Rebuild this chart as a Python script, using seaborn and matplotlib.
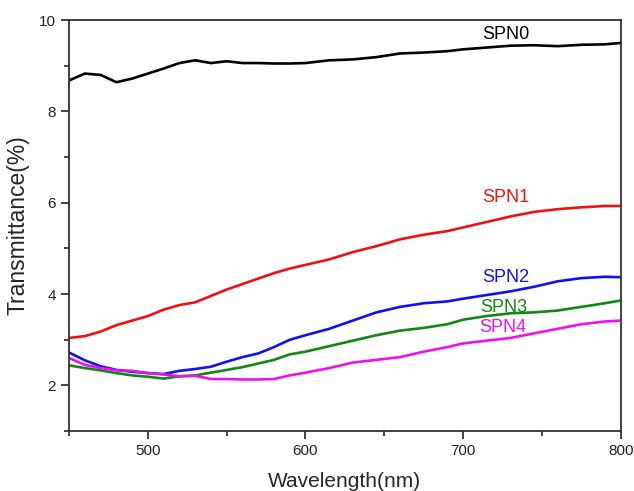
import matplotlib
matplotlib.use("Agg")
import matplotlib.pyplot as plt
import seaborn as sns
import pandas as pd
from matplotlib.ticker import MultipleLocator

wavelength = [450, 460, 470, 480, 490, 500, 510, 520, 530, 540, 550, 560, 570, 580, 590,
              600, 615, 630, 645, 660, 675, 690, 700, 715, 730, 745, 760, 775, 790, 800]

spn0 = [8.68, 8.83, 8.80, 8.64, 8.72, 8.83, 8.94, 9.06, 9.12, 9.06, 9.10, 9.06, 9.06, 9.05, 9.05,
        9.06, 9.12, 9.14, 9.19, 9.27, 9.29, 9.32, 9.36, 9.40, 9.44, 9.45, 9.43, 9.46, 9.47, 9.50]
spn1 = [3.04, 3.08, 3.18, 3.32, 3.42, 3.52, 3.66, 3.76, 3.82, 3.96, 4.10, 4.22, 4.34, 4.46, 4.56,
        4.64, 4.76, 4.92, 5.05, 5.20, 5.30, 5.38, 5.46, 5.58, 5.70, 5.80, 5.86, 5.90, 5.93, 5.93]
spn2 = [2.72, 2.55, 2.42, 2.34, 2.30, 2.27, 2.25, 2.32, 2.36, 2.41, 2.52, 2.62, 2.70, 2.84, 3.00,
        3.10, 3.24, 3.42, 3.60, 3.72, 3.80, 3.84, 3.90, 3.98, 4.06, 4.16, 4.28, 4.35, 4.38, 4.37]
spn3 = [2.44, 2.38, 2.33, 2.27, 2.22, 2.19, 2.15, 2.20, 2.22, 2.28, 2.34, 2.40, 2.48, 2.56, 2.68,
        2.74, 2.86, 2.98, 3.10, 3.20, 3.26, 3.34, 3.44, 3.52, 3.58, 3.60, 3.64, 3.72, 3.80, 3.86]
spn4 = [2.60, 2.45, 2.38, 2.33, 2.32, 2.27, 2.24, 2.20, 2.21, 2.14, 2.14, 2.13, 2.13, 2.14, 2.22,
        2.28, 2.38, 2.50, 2.56, 2.62, 2.74, 2.84, 2.92, 2.98, 3.04, 3.14, 3.24, 3.34, 3.40, 3.42]

series_names = ["SPN0", "SPN1", "SPN2", "SPN3", "SPN4"]
series_values = [spn0, spn1, spn2, spn3, spn4]
colors = ["#000000", "#ee1111", "#1111ee", "#118811", "#ee11ee"]
label_pos = [(727, 9.69), (727, 6.12), (727, 4.37), (726, 3.71), (725, 3.26)]

rows = []
for name, vals in zip(series_names, series_values):
    for w, v in zip(wavelength, vals):
        rows.append({"Wavelength": w, "Transmittance": v, "Sample": name})
df = pd.DataFrame(rows)

sns.set_style("ticks")
plt.rcParams["font.family"] = ["Liberation Sans", "DejaVu Sans"]

fig = plt.figure(figsize=(6.34, 4.91), dpi=100)
ax = fig.add_axes([0.109, 0.122, 0.870, 0.837])

sns.lineplot(data=df, x="Wavelength", y="Transmittance", hue="Sample",
             hue_order=series_names, palette=colors, linewidth=1.9,
             legend=False, ax=ax)

for name, (lx, ly), c in zip(series_names, label_pos, colors):
    ax.text(lx, ly, name, color=c, fontsize=13, ha="center", va="center")

ax.set_xlim(450, 800)
ax.set_ylim(1, 10)
ax.xaxis.set_major_locator(MultipleLocator(100))
ax.xaxis.set_minor_locator(MultipleLocator(50))
ax.yaxis.set_major_locator(MultipleLocator(2))
ax.yaxis.set_minor_locator(MultipleLocator(1))
ax.tick_params(which="major", direction="out", length=6, width=1.2, labelsize=11, colors="#222222")
ax.tick_params(which="minor", direction="out", length=3.5, width=1.2)
for s in ax.spines.values():
    s.set_visible(True)
    s.set_linewidth(1.3)
    s.set_color("#333333")

ax.set_xlabel("Wavelength(nm)", fontsize=15, labelpad=10)
ax.set_ylabel("Transmittance(%)", fontsize=16.5, labelpad=7)

fig.savefig("out.png", dpi=100)
